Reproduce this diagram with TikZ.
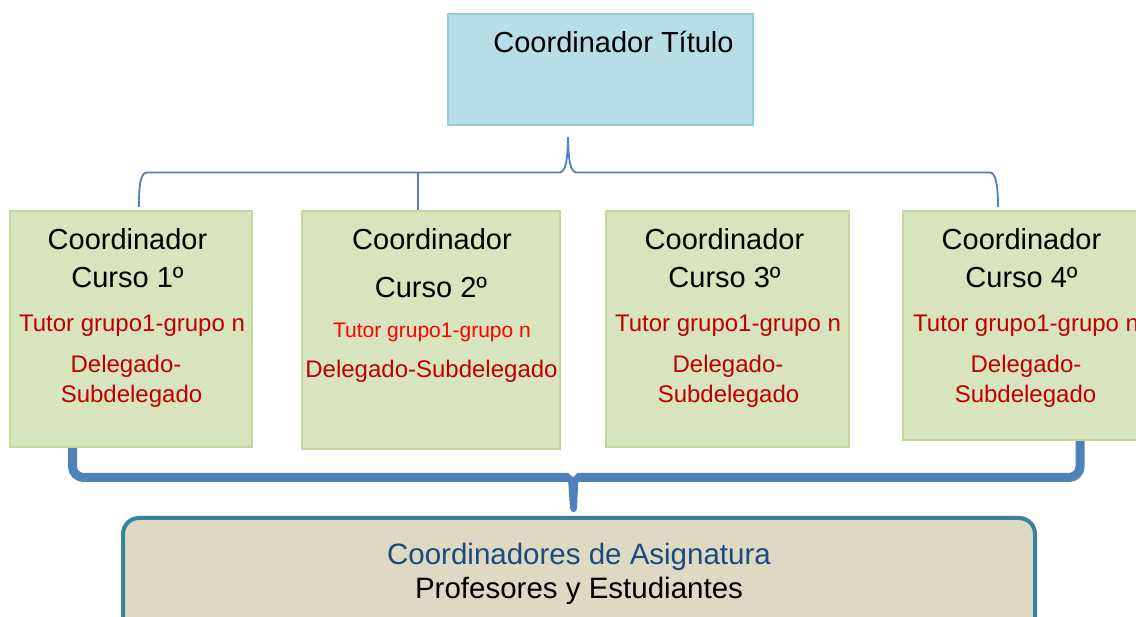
\documentclass[tikz,border=0pt]{standalone}
\usepackage{fontspec}
\setmainfont{Liberation Sans}
\definecolor{topfill}{HTML}{B7DDE8}
\definecolor{topborder}{HTML}{92CDDC}
\definecolor{greenfill}{HTML}{D7E4BD}
\definecolor{greenborder}{HTML}{C3D69B}
\definecolor{bracecol}{HTML}{4F81BD}
\definecolor{darkred}{HTML}{C00000}
\definecolor{brightred}{HTML}{FF0000}
\definecolor{navy}{HTML}{1F497D}
\definecolor{botfill}{HTML}{DDD9C3}
\definecolor{botborder}{HTML}{31859C}
\begin{document}
\begin{tikzpicture}[x=1pt,y=-1pt,
  topbox/.style={draw=topborder,fill=topfill,line width=2pt,inner sep=0pt},
  greenbox/.style={draw=greenborder,fill=greenfill,line width=2.5pt,inner sep=0pt},
  botbox/.style={draw=botborder,fill=botfill,line width=4pt,rounded corners=16pt,inner sep=0pt},
  big/.style={font=\fontsize{29}{29}\selectfont,text=black,anchor=base,inner sep=0pt},
  redtxt/.style={font=\fontsize{24}{24}\selectfont,text=darkred,anchor=base,inner sep=0pt},
  smallred/.style={font=\fontsize{21}{21}\selectfont,text=brightred,anchor=base,inner sep=0pt},
  bottxt/.style={font=\fontsize{29.5}{29.5}\selectfont,anchor=base,inner sep=0pt},
  thinbrace/.style={draw=bracecol,line width=1.8pt},
  thickbrace/.style={draw=bracecol,line width=9pt,rounded corners=11pt}
]
\useasboundingbox (0,0) rectangle (1136,617);
\clip (0,0) rectangle (1136,617);
\fill[white] (0,0) rectangle (1136,617);

% braces (behind boxes)
\coordinate (tl) at (139,207);
\coordinate (tr) at (998,207);
\coordinate (tt) at (568,137);
\coordinate (tickTop) at (418,172.5);
\coordinate (tickBot) at (418,212);
\draw[thinbrace] (tl) .. controls (139,186) and (140,173) .. (147,172.5) -- (559,172.5)
  .. controls (566,172.5) and (567.5,160) .. (tt)
  .. controls (568.5,160) and (570,172.5) .. (577,172.5) -- (990,172.5)
  .. controls (996,173) and (998,186) .. (tr);
\draw[thinbrace] (tickTop) -- (tickBot);

\coordinate (bl) at (72.5,440);
\coordinate (br) at (1080,440);
\coordinate (bt) at (573,512);
\draw[thickbrace] (bl) -- (72.5,477.5) -- (1080,477.5) -- (br);
\fill[bracecol] (560,474) .. controls (567,474) and (568,478) .. (568.5,486)
  -- (570,508) .. controls (570.5,513.5) and (576.5,513.5) .. (577,508)
  -- (578,486) .. controls (578.5,478) and (579,474) .. (586,474) -- cycle;
\fill[white] (568,472.5) -- (573,477) -- (578,472.5) -- cycle;

% top box
\node[topbox,minimum width=305pt,minimum height=111pt] (top) at (600.5,69.5) {};
\node[big] (topt) at (613.5,53) {Coordinador Título};

% green boxes
\node[greenbox,minimum width=242pt,minimum height=236pt] (c1) at (131,329) {};
\node[greenbox,minimum width=258pt,minimum height=238pt] (c2) at (431,330) {};
\node[greenbox,minimum width=243pt,minimum height=236pt] (c3) at (727.5,329) {};
\node[greenbox,minimum width=240pt,minimum height=229pt] (c4) at (1023,325.5) {};

% box 1
\node[big] (c1a) at (127.5,250) {Coordinador};
\node[big] (c1b) at (127.5,288) {Curso 1º};
\node[redtxt] (c1c) at (132,332) {Tutor grupo1-grupo n};
\node[redtxt] (c1d) at (126,373) {Delegado-};
\node[redtxt] (c1e) at (131.5,403) {Subdelegado};

% box 2
\node[big] (c2a) at (432,250) {Coordinador};
\node[big] (c2b) at (431,298) {Curso 2º};
\node[smallred] (c2c) at (432,338) {Tutor grupo1-grupo n};
\node[redtxt] (c2d) at (431.5,378) {Delegado-Subdelegado};

% box 3
\node[big] (c3a) at (724.5,250) {Coordinador};
\node[big] (c3b) at (724.5,288) {Curso 3º};
\node[redtxt] (c3c) at (728,332) {Tutor grupo1-grupo n};
\node[redtxt] (c3d) at (728,373) {Delegado-};
\node[redtxt] (c3e) at (728.5,403) {Subdelegado};

% box 4
\node[big] (c4a) at (1021.5,250) {Coordinador};
\node[big] (c4b) at (1021.5,288) {Curso 4º};
\node[redtxt,anchor=base west] (c4c) at (913,332) {Tutor grupo1-grupo n};
\node[redtxt] (c4d) at (1026,373) {Delegado-};
\node[redtxt] (c4e) at (1025.5,403) {Subdelegado};

% bottom box
\node[botbox,minimum width=912pt,minimum height=130pt] (bot) at (579,583) {};
\node[bottxt,text=navy] (bota) at (579,565) {Coordinadores de Asignatura};
\node[bottxt,text=black] (botb) at (579,598) {Profesores y Estudiantes};
\end{tikzpicture}
\end{document}
